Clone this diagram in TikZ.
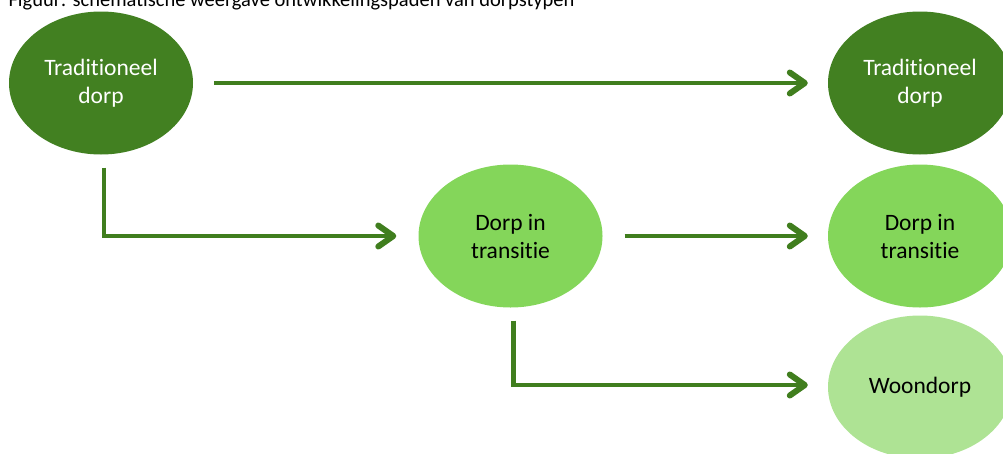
\documentclass[tikz,border=0pt]{standalone}
\usepackage{fontspec}
\setmainfont{Carlito}[Ligatures=NoCommon]
\usetikzlibrary{shapes.geometric,arrows.meta}
\definecolor{darkg}{RGB}{66,128,33}
\definecolor{midg}{RGB}{132,214,90}
\definecolor{lightg}{RGB}{174,227,148}
\definecolor{lineg}{RGB}{64,126,30}
\tikzset{
  blob/.style={ellipse, minimum width=184pt, minimum height=143pt, inner sep=0pt, align=center,
    font=\fontsize{23.5}{28}\selectfont},
  darkblob/.style={blob, fill=darkg, text=white},
  midblob/.style={blob, fill=midg, text=black},
  lightblob/.style={blob, fill=lightg, text=black},
  conn/.style={draw=lineg, line width=4.6pt, line join=miter,
    -{Straight Barb[length=15pt,width=21pt,line width=6pt,line cap=round,line join=round]}}
}
\begin{document}
\begin{tikzpicture}[x=1pt,y=1pt]
\useasboundingbox (0,-453) rectangle (1003,0);
\begin{scope}
\clip (0,-453) rectangle (1003,0);
\node[anchor=base west, font=\fontsize{20.5}{24}\selectfont] (cap) at (5,-6) {Figuur: schematische weergave ontwikkelingspaden van dorpstypen};
\node[darkblob] (t1) at (101,-83) {Traditioneel\\dorp};
\node[darkblob] (t2) at (920,-83) {Traditioneel\\dorp};
\node[midblob] (m) at (510.5,-236) {Dorp in\\transitie};
\node[midblob] (r2) at (920,-236) {Dorp in\\transitie};
\node[lightblob] (w) at (920,-387) {Woondorp};
\draw[conn, shorten <=21pt, shorten >=20pt] (t1) -- (t2);
\draw[conn, shorten <=13pt, shorten >=22pt] ([xshift=3pt]t1.south) |- (m.west);
\draw[conn, shorten <=22pt, shorten >=20pt] (m.east) -- (r2.west);
\draw[conn, shorten <=13pt, shorten >=20pt] ([xshift=3pt]m.south) |- ([yshift=2pt]w.west);
\end{scope}
\end{tikzpicture}
\end{document}
